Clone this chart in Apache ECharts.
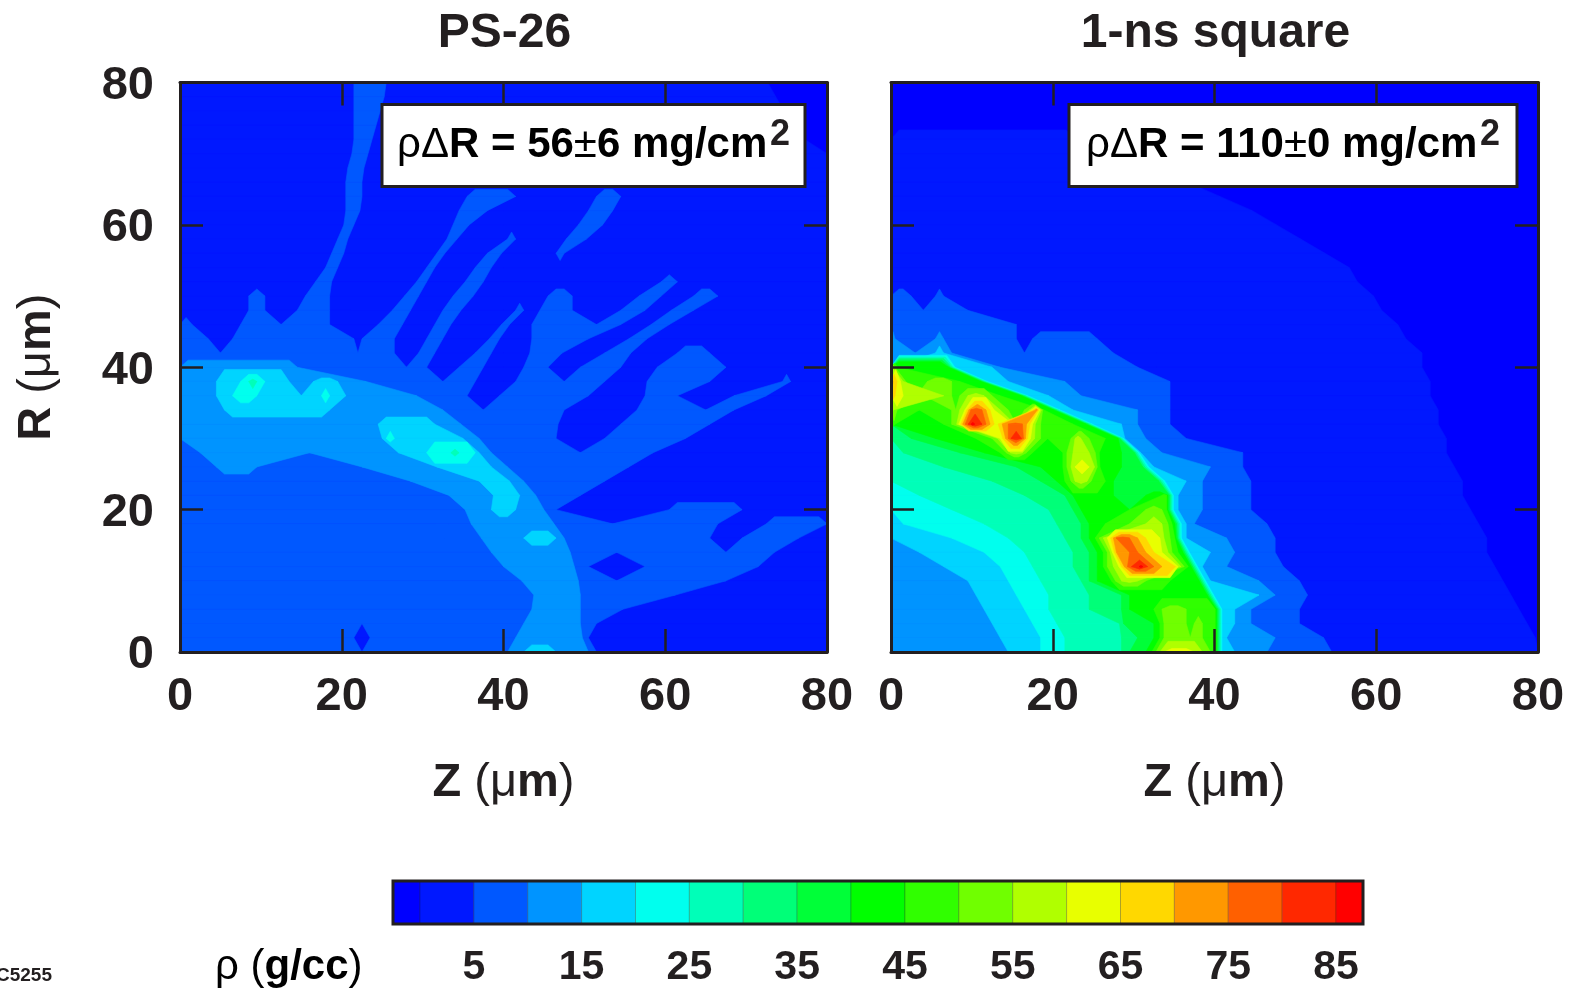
<!DOCTYPE html>
<html><head><meta charset="utf-8">
<style>html,body{margin:0;padding:0;background:#fff}#c{width:1573px;height:990px}</style>
<script src="https://cdn.jsdelivr.net/npm/echarts@6/dist/echarts.min.js"></script>
</head><body><div id="c"></div>
<script>
// Density bands, low to high: each band runs from BAND_EDGES[i] to BAND_EDGES[i+1] in g/cc
const BAND_EDGES = [-2.5,0,5,10,15,20,25,30,35,40,45,50,55,60,65,70,75,80,85,87.5];
const BAND_COLORS = ['#0000ff','#0018ff','#0058ff','#0094ff','#00d4ff','#00ffee','#00ffb8','#00ff78','#00ff38','#00ff00','#30ff00','#70ff00','#b0ff00','#e8ff00','#ffd800','#ff9800','#ff6000','#ff2800','#ff0000'];
const COLORBAR_LABELS = [5,15,25,35,45,55,65,75,85];
const AXIS_STEP = 20;

const PS26_BACKGROUND = 1;
const PS26_ROWS = [
"2:22-25 0:73-80","2:22-25 0:74-80","2:22-24 0:75-80","2:22-24 0:76-80","2:22-23 0:77-80","2:22-23","2:21-22","2:21-22",
"2:21-22 2:36-41 2:52-54","2:21-22 2:35-37 2:51-53","2:21 2:34-35 2:50-52","2:20 2:34 2:41 2:48-50","2:19-20 2:32 2:38-39 2:47",
"2:19 2:31 2:37-38","2:17-18 2:30 2:36-37 2:60-61","2:16-18 2:9-10 2:28-29 2:34-36 2:46-48 2:57-59 2:64-66",
"2:15-18 2:9-10 2:27-28 2:33-34 2:42 2:45-48 2:55-57 2:61-63","2:0-1 2:8-18 2:25-27 2:32-33 2:40 2:44-54 2:59-60",
"2:0-3 2:7-21 2:23-26 2:31-32 2:39 2:44-50 2:56-57","2:0-26 2:30-31 2:37-38 2:44-46 2:53-55 2:62-65",
"2:0-30 2:35-37 2:43-45 2:50-54 2:59-69 3:0-14","2:0-36 2:42-52 2:58-65 2:75 3:0-23 4:5-13 4:17-19 5:8-10 6:9",
"2:0-35 2:40-50 2:58-61 2:69-72 3:0-30 4:5-20 5:7-9 5:18","2:0-47 2:57-68 3:0-32 4:6-18","2:0-46 2:55-65 3:0-34 4:25-31",
"2:0-46 2:53-62 3:0-37 4:25-35 5:26","2:0-58 3:3-38 4:27-37 5:31-36 6:34","2:0-55 3:5-9 3:23-40 4:31-37","2:0-52 3:29-42 4:40-41",
"2:0-49 3:35-44 4:39-42","2:0-46 2:61-69 3:36-44 4:39-41","2:0-66 2:73-80 3:36-46","2:0-65 2:70-76 3:38-47 4:43-46","2:0-73 3:39-48",
"2:0-50 2:58-71 3:40-48","2:0-67 3:43-49","2:0-62 3:45-49","2:0-52 3:44-49","2:0-51 3:43-49","2:0-50 3:42-49 1:22-23","2:0-51 3:41-50 4:43-46"
];
const SQUARE_BACKGROUND = 0;
const SQUARE_ROWS = [
"","","","","1:0-22","1:0-27","1:0-32","1:0-36","1:0-40","1:0-44","1:0-47","1:0-50","1:0-53","1:0-56","1:0-57",
"1:0-59 2:0-2 2:6","1:0-60 2:0-9","1:0-62 2:0-15","1:0-63 2:0-15 2:18-25 3:0 3:6","1:0-65 2:0-27 3:0-7 4:6",
"1:0-65 2:0-30 3:0-13 4:0-12 9:0-7 12:0",
"1:0-66 2:0-34 3:0-21 4:0-14 9:0-11 10:0-8 11:0-1 11:5-7 13:0-1 15:0",
"1:0-66 2:0-34 3:0-23 4:0-19 9:0-16 10:0-13 11:0-7 12:0-6 13:0-1 14:0 11:9-12 12:10-11",
"1:0-67 2:0-34 3:0-30 4:0-22 9:0-20 10:0-18 11:0 12:0 11:8-14 12:9-13 13:10-12 14:10-12 16:10-11 11:17-18 13:18 15:18",
"1:0-67 2:0-34 3:0-30 4:0-28 10:0 9:1-6 10:7 11:8 15:9 18:10 17:11 15:12 13:13 15:14 16:15-16 14:17 11:18 10:19-22 9:23-24",
"1:0-68 2:0-36 3:0-31 4:0-28 7:0-2 8:3-5 9:6-10 10:11-12 11:13 14:14 17:15-16 13:17 11:18 10:19-22 12:23 11:24 10:25-26 9:27-28",
"1:0-68 2:0-43 3:0-33 4:0-30 6:0-1 7:2-8 8:9-11 9:12-13 10:14 12:15-16 10:17 9:18-21 11:22 12:23-24 11:25 9:26-28 8:29-30",
"1:0-69 2:0-43 3:0-39 4:0-32 6:0-6 7:7-15 8:16-18 9:19-21 11:22 13:23-24 12:25 9:26-28 8:29-31",
"1:0-70 2:0-44 3:0-38 4:0-36 6:0-12 7:13-18 8:19-20 9:21 10:22 12:23-24 10:25-26 9:27 8:28-33",
"1:0-70 2:0-44 3:0-38 4:0-35 5:0-3 6:4-16 7:17-21 8:22 9:23-27 8:28-31 9:32-33 10:34",
"1:0-71 2:0-44 3:0-38 4:0-35 5:0-7 6:8-19 7:20-22 8:23 9:24-29 10:30-31 11:32-33 10:34",
"1:0-72 2:0-46 3:0-37 4:0-36 5:2-11 6:12-20 7:21-23 8:24 9:25-26 10:27-29 11:30-31 12:32-33 11:34 9:35",
"1:0-73 2:0-47 3:0-41 4:0-36 5:8-14 6:15-21 7:22-23 8:24 9:25 11:26 13:27 16:28-29 15:30 14:31 13:32-33 11:34 10:35",
"1:0-73 2:0-47 3:0-42 4:4-39 5:12-16 6:17-22 7:23-24 8:25 9:26 11:27 15:28-29 16:30 15:31 14:32 13:33 12:34 10:35 9:36",
"1:0-74 2:0-48 3:0-41 4:7-38 5:14-17 6:18-22 7:23-24 8:25 9:26 11:27 12:28 15:29 17:30 18:31 16:32 15:33 14:34-35 11:36 9:37",
"1:0-75 2:0-50 3:0-45 4:10-39 5:15-18 6:19-23 7:24 8:25 9:26-27 11:28 12:29-30 11:31 10:32-34 9:35-38",
"1:0-76 2:0-51 3:0-47 4:11-45 5:16-19 6:20-24 7:25-28 8:29 9:30-39",
"1:0-77 2:0-50 3:0-44 4:12-42 5:17-19 6:20-24 7:25-28 8:29 9:30-32 10:33 11:34-36 10:37-40",
"1:0-78 2:0-50 3:0-44 4:13-42 5:18-20 6:21-28 8:29-32 9:33 11:34-36 10:37 11:38 10:39-40",
"1:0-79 2:0-53 3:0-47 4:14-41 5:19-21 6:22-28 7:29-30 8:31-32 9:33 11:34-38 10:39-40",
"1:0-80 2:0-54 3:0-46 4:15-42 5:19-21 6:22-28 7:29 8:30-31 9:32 11:33 13:34-37 12:38 11:39 10:40"
];

const INK = '#231f20';
const FONT = '"Liberation Sans", Arial, sans-serif';
const bandMid = function (b) { return (BAND_EDGES[b] + BAND_EDGES[b + 1]) / 2; };

function readRows(rows, background) {
  return rows.map(function (row) {
    const line = new Array(81).fill(background);
    row.split(' ').filter(Boolean).forEach(function (seg) {
      const parts = seg.split(':'), band = +parts[0], span = parts[1].split('-');
      const to = span[1] === undefined ? +span[0] : +span[1];
      for (let z = +span[0]; z <= to; z++) line[z] = band;
    });
    return line.map(bandMid);
  });
}
// Where a scan row sits at or above a level: intervals of Z.
function rowIntervals(v, L) {
  const out = [];
  let start = v[0] >= L ? 0 : null;
  for (let z = 0; z < 80; z++) {
    if (v[z] >= L && v[z + 1] < L) { out.push({ a: start, b: z + (v[z] - L) / (v[z] - v[z + 1]) }); start = null; }
    else if (v[z] < L && v[z + 1] >= L) { start = z + (L - v[z]) / (v[z + 1] - v[z]); }
  }
  if (start !== null) out.push({ a: start, b: 80 });
  return out;
}
function capFraction(own, other, it, L) {
  let zp = Math.round((it.a + it.b) / 2), peak = -Infinity;
  for (let z = Math.ceil(it.a); z <= Math.floor(it.b); z++) if (own[z] > peak) { peak = own[z]; zp = z; }
  if (peak === -Infinity) peak = own[zp];
  const n = other[zp];
  const t = peak > n ? (peak - L) / (peak - n) : 0.5;
  return Math.max(0.08, Math.min(1, t));
}
function matchRows(A, B) {
  const pairs = [], mA = A.map(function () { return false; }), mB = B.map(function () { return false; });
  A.forEach(function (p, i) { B.forEach(function (q, j) {
    if (p.b >= q.a - 0.01 && q.b >= p.a - 0.01) { pairs.push([i, j]); mA[i] = mB[j] = true; }
  }); });
  A.forEach(function (p, i) {
    if (mA[i]) return;
    let best = -1, gap = 2.6;
    B.forEach(function (q, j) {
      if (mB[j]) return;
      const g = Math.max(q.a - p.b, p.a - q.b);
      if (g < gap) { gap = g; best = j; }
    });
    if (best >= 0) { pairs.push([i, best]); mA[i] = mB[best] = true; }
  });
  return { pairs: pairs, mA: mA, mB: mB };
}
// Softens the corners of a contour where an interval continues one-to-one into both neighbouring rows.
function softenEdges(ints) {
  const links = [];
  for (let k = 0; k < ints.length - 1; k++) links.push(matchRows(ints[k], ints[k + 1]).pairs);
  const sole = function (pairs, side, idx) {
    const hits = pairs.filter(function (p) { return p[side] === idx; });
    if (hits.length !== 1) return -1;
    const other = hits[0][1 - side];
    return pairs.filter(function (p) { return p[1 - side] === other; }).length === 1 ? other : -1;
  };
  return ints.map(function (row, k) {
    return row.map(function (it, i) {
      const up = k > 0 ? sole(links[k - 1], 1, i) : -1;
      const dn = k < ints.length - 1 ? sole(links[k], 0, i) : -1;
      if (up < 0 || dn < 0) return it;
      const U = ints[k - 1][up], D = ints[k + 1][dn];
      const a = it.a <= 0 ? 0 : it.a + 0.25 * (U.a + D.a - 2 * it.a);
      const b = it.b >= 80 ? 80 : it.b + 0.25 * (U.b + D.b - 2 * it.b);
      return b > a ? { a: a, b: b } : it;
    });
  });
}
// Joins the intervals of two neighbouring rows into band pieces.
function joinRows(A, B, vA, vB, rA, rB, L, band, out) {
  const m = matchRows(A, B), pairs = m.pairs;
  pairs.forEach(function (pr) {
    const i = pr[0], j = pr[1];
    const sibB = pairs.filter(function (x) { return x[0] === i; }).map(function (x) { return x[1]; }).sort(function (x, y) { return x - y; });
    const sibA = pairs.filter(function (x) { return x[1] === j; }).map(function (x) { return x[0]; }).sort(function (x, y) { return x - y; });
    let a1 = A[i].a, b1 = A[i].b, a2 = B[j].a, b2 = B[j].b;
    const pb = sibB.indexOf(j), pa = sibA.indexOf(i);
    if (pb > 0) a1 = Math.max(a1, Math.min(b1, (B[sibB[pb - 1]].b + B[j].a) / 2));
    if (pb < sibB.length - 1) b1 = Math.min(b1, Math.max(A[i].a, (B[j].b + B[sibB[pb + 1]].a) / 2));
    if (pa > 0) a2 = Math.max(a2, Math.min(b2, (A[sibA[pa - 1]].b + A[i].a) / 2));
    if (pa < sibA.length - 1) b2 = Math.min(b2, Math.max(B[j].a, (A[i].b + A[sibA[pa + 1]].a) / 2));
    out.push([band, a1, b1, rA, a2, b2, rB]);
  });
  A.forEach(function (p, i) {
    if (m.mA[i]) return;
    const t = capFraction(vA, vB, p, L), s = Math.min((p.b - p.a) / 2, 1);
    out.push([band, p.a, p.b, rA, p.a + s, p.b - s, rA + (rB - rA) * t]);
  });
  B.forEach(function (q, j) {
    if (m.mB[j]) return;
    const t = capFraction(vB, vA, q, L), s = Math.min((q.b - q.a) / 2, 1);
    out.push([band, q.a, q.b, rB, q.a + s, q.b - s, rB + (rA - rB) * t]);
  });
}
function bandPieces(rows, background, soften) {
  const g = readRows(rows, background), out = [[0, 0, 80, 80, 0, 80, 0]];
  for (let b = 1; b < BAND_COLORS.length; b++) {
    const L = BAND_EDGES[b];
    let ints = g.map(function (v) { return rowIntervals(v, L); });
    if (soften) ints = softenEdges(ints);
    for (let k = 0; k < 40; k++) joinRows(ints[k], ints[k + 1], g[k], g[k + 1], 80 - 2 * k, 78 - 2 * k, L, b, out);
  }
  return out;
}
function renderPiece(params, api) {
  const c = BAND_COLORS[api.value(0)];
  const pts = [[api.value(1), api.value(3)], [api.value(2), api.value(3)], [api.value(5), api.value(6)], [api.value(4), api.value(6)]]
    .map(function (p) { return api.coord(p); });
  return { type: 'polygon', shape: { points: pts }, style: { fill: c, stroke: c, lineWidth: 0.6 } };
}
function renderSwatch(params, api) {
  const a = api.coord([api.value(0), 0]), b = api.coord([api.value(1), 1]);
  return { type: 'rect', shape: { x: a[0], y: b[1], width: b[0] - a[0], height: a[1] - b[1] },
    style: { fill: BAND_COLORS[params.dataIndex], stroke: 'rgba(0,0,0,0.22)', lineWidth: 1 } };
}
const richName = {
  b: { fontFamily: FONT, fontWeight: 'bold', fontSize: 47, color: INK },
  n: { fontFamily: FONT, fontWeight: 'normal', fontSize: 47, color: INK }
};
function panelAxes(gi, showY) {
  const line = { show: true, onZero: false, lineStyle: { color: INK, width: 3 } };
  const tick = { show: true, inside: true, length: 23, lineStyle: { color: INK, width: 2.5 } };
  const base = { type: 'value', min: 0, max: 80, interval: AXIS_STEP, gridIndex: gi, z: 10, splitLine: { show: false }, axisLine: line, axisTick: tick };
  const label = { show: true, color: INK, fontFamily: FONT, fontWeight: 'bold', fontSize: 47, showMinLabel: true, showMaxLabel: true };
  const yLabel = { margin: 26, formatter: '{v|{value}}', rich: { v: { fontFamily: FONT, fontWeight: 'bold', fontSize: 47, color: INK, padding: [7, 0, 0, 0] } } };
  return {
    x: [
      Object.assign({}, base, { position: 'bottom', axisLabel: Object.assign({ margin: 22 }, label),
        name: '{b|Z }{n|(μ}{b|m}{n|)}', nameLocation: 'middle', nameGap: 108, nameTextStyle: { rich: richName } }),
      Object.assign({}, base, { position: 'top', axisLabel: { show: false } })
    ],
    y: [
      Object.assign({}, base, { position: 'left', axisLabel: showY ? Object.assign(yLabel, { show: true, showMinLabel: true, showMaxLabel: true }) : { show: false } },
        showY ? { name: '{b|R }{n|(μ}{b|m}{n|)}', nameLocation: 'middle', nameGap: 119, nameRotate: 90, nameTextStyle: { rich: richName } } : {}),
      Object.assign({}, base, { position: 'right', axisLabel: { show: false } })
    ]
  };
}
const A = panelAxes(0, true), B = panelAxes(1, false);
function noteBox(x, w, value, tx, sx) {
  const rich = {
    n: { fontFamily: FONT, fontSize: 42, fontWeight: 'normal', color: INK },
    b: { fontFamily: FONT, fontSize: 42, fontWeight: 'bold', color: INK }
  };
  return [
    { type: 'rect', z: 100, shape: { x: x, y: 104.5, width: w, height: 82 }, style: { fill: '#fff', stroke: INK, lineWidth: 3 } },
    { type: 'text', z: 101, x: tx, y: 124, style: {
      text: '{n|ρΔ}{b|R = ' + value[0] + '}{n|±}{b|' + value[1] + ' mg/cm}', rich: rich } },
    { type: 'text', z: 101, x: sx, y: 117, style: { text: '2', fontFamily: FONT, fontSize: 36, fontWeight: 'bold', fill: INK } }
  ];
}
const option = {
  animation: false,
  backgroundColor: '#fff',
  title: [
    { text: 'PS-26', left: 499.5, top: 5, textAlign: 'center', textStyle: { fontFamily: FONT, fontWeight: 'bold', fontSize: 48, color: INK } },
    { text: '1-ns square', left: 1210.5, top: 5, textAlign: 'center', textStyle: { fontFamily: FONT, fontWeight: 'bold', fontSize: 48, color: INK } }
  ],
  grid: [
    { left: 180, top: 82.5, width: 647, height: 569.5 },
    { left: 891, top: 82.5, width: 647, height: 569.5 },
    { left: 393, top: 881, width: 970, height: 43, show: true, borderColor: INK, borderWidth: 3, z: 10, backgroundColor: 'transparent' }
  ],
  xAxis: A.x.concat(B.x, [{
    type: 'value', gridIndex: 2, min: -2.5, max: 87.5, position: 'bottom', splitLine: { show: false },
    axisLine: { show: false }, axisTick: { show: false },
    axisLabel: { customValues: COLORBAR_LABELS, margin: 23, color: INK, fontFamily: FONT, fontWeight: 'bold', fontSize: 41 }
  }]),
  yAxis: A.y.concat(B.y, [{ type: 'value', gridIndex: 2, min: 0, max: 1, show: false }]),
  series: [
    { type: 'custom', name: 'PS-26', xAxisIndex: 0, yAxisIndex: 0, renderItem: renderPiece, data: bandPieces(PS26_ROWS, PS26_BACKGROUND, true), clip: true, progressive: 0, silent: true, encode: { x: [1, 2], y: 3 } },
    { type: 'custom', name: '1-ns square', xAxisIndex: 2, yAxisIndex: 2, renderItem: renderPiece, data: bandPieces(SQUARE_ROWS, SQUARE_BACKGROUND, false), clip: true, progressive: 0, silent: true, encode: { x: [1, 2], y: 3 } },
    { type: 'custom', name: 'colour bar', xAxisIndex: 4, yAxisIndex: 4, renderItem: renderSwatch, silent: true, encode: { x: [0, 1] },
      data: BAND_COLORS.map(function (c, i) { return [BAND_EDGES[i], BAND_EDGES[i + 1]]; }) }
  ],
  graphic: [].concat(
    noteBox(382, 423, ['56', '6'], 397, 770),
    noteBox(1069, 448, ['110', '0'], 1086, 1480),
    [
      { type: 'text', z: 101, x: 215, y: 946, style: { text: '{n|ρ (}{b|g/cc}{n|)}', rich: {
        n: { fontFamily: FONT, fontSize: 42, color: INK }, b: { fontFamily: FONT, fontSize: 42, fontWeight: 'bold', color: INK } } } },
      { type: 'text', z: 101, x: 52, y: 966, style: { text: 'TC5255', align: 'right', fontFamily: FONT, fontSize: 19, fontWeight: 'bold', fill: INK } }
    ]
  )
};
const chart = echarts.init(document.getElementById('c'), null, { renderer: 'canvas' });
chart.setOption(option);
</script></body></html>
